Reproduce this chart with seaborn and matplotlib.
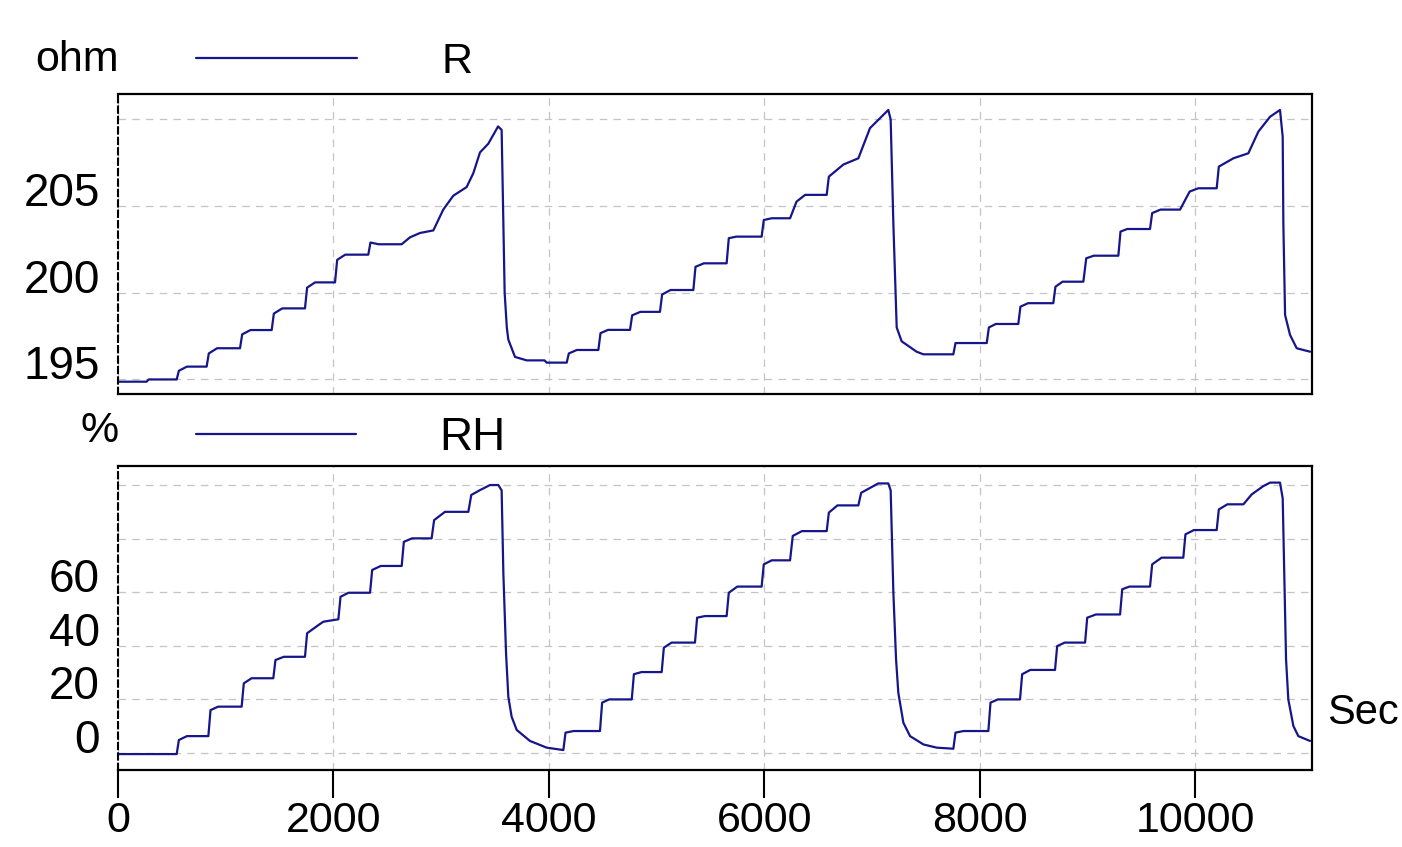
import matplotlib
matplotlib.use("Agg")
import matplotlib.pyplot as plt
import seaborn as sns
import pandas as pd

# ---------------- data ----------------
t_R = [0, 266, 285, 545, 565, 640, 823, 843, 920, 1133, 1153, 1230, 1427, 1447, 1525,
       1736, 1756, 1830, 2015, 2035, 2110, 2324, 2344, 2420, 2634, 2711, 2804, 2928,
       3020, 3113, 3237, 3299, 3361, 3438, 3529,
       3562, 3575, 3590, 3610, 3624, 3686, 3795, 3960, 3980, 4166,
       4186, 4260, 4460, 4480, 4550, 4754, 4774, 4850, 5032, 5052, 5130, 5342, 5362,
       5440, 5651, 5671, 5740, 5976, 5996, 6070, 6240, 6300, 6380, 6580, 6600, 6735,
       6874, 6982, 7152,
       7174, 7199, 7230, 7276, 7415, 7478, 7756,
       7776, 8066, 8086, 8150, 8359, 8379, 8450, 8684, 8704, 8770, 8963, 8990, 9060,
       9288, 9308, 9370, 9582, 9602, 9680, 9861, 9950, 10030, 10201, 10221, 10356,
       10495, 10588, 10697, 10789,
       10814, 10820, 10836, 10882, 10944, 11068]
R = [194.87, 194.87, 195.0, 195.0, 195.5, 195.74, 195.74, 196.5, 196.8, 196.8, 197.6,
     197.85, 197.85, 198.8, 199.1, 199.1, 200.3, 200.6, 200.6, 201.9, 202.2, 202.2,
     202.9, 202.8, 202.8, 203.2, 203.45, 203.6, 204.8, 205.6, 206.1, 206.9, 208.1,
     208.6, 209.6,
     209.4, 205.0, 200.0, 198.0, 197.3, 196.3, 196.1, 196.1, 195.97, 195.97,
     196.5, 196.7, 196.7, 197.67, 197.86, 197.86, 198.7, 198.9, 198.9, 199.9, 200.16,
     200.16, 201.5, 201.7, 201.7, 203.15, 203.24, 203.24, 204.2, 204.3, 204.3, 205.26,
     205.65, 205.65, 206.7, 207.4, 207.76, 209.5, 210.55,
     210.0, 204.0, 198.0, 197.2, 196.6, 196.45, 196.45,
     197.1, 197.1, 198.0, 198.2, 198.2, 199.2, 199.4, 199.4, 200.35, 200.64, 200.64,
     201.99, 202.14, 202.14, 203.53, 203.68, 203.68, 204.6, 204.8, 204.8, 205.84,
     206.03, 206.03, 207.28, 207.76, 208.05, 209.3, 210.16, 210.55,
     209.0, 204.0, 198.72, 197.57, 196.8, 196.6]

t_RH = [0, 545, 565, 640, 839, 859, 930, 1148, 1168, 1240, 1442, 1462, 1540, 1736, 1756,
        1870, 1907, 2046, 2066, 2140, 2340, 2360, 2440, 2634, 2654, 2730, 2912, 2935,
        3036, 3253, 3280, 3361, 3454, 3531,
        3562, 3578, 3603, 3624, 3655, 3702, 3825, 3980, 4135,
        4155, 4230, 4475, 4495, 4560, 4770, 4790, 4860, 5048, 5068, 5140, 5357, 5377,
        5450, 5651, 5671, 5750, 5976, 5996, 6070, 6240, 6265, 6350, 6580, 6600, 6680,
        6874, 6900, 7059, 7152,
        7174, 7199, 7224, 7245, 7292, 7354, 7478, 7601, 7756,
        7776, 7850, 8081, 8101, 8170, 8375, 8395, 8470, 8700, 8720, 8790, 8979, 8999,
        9080, 9304, 9324, 9390, 9582, 9602, 9690, 9891, 9911, 9990, 10201, 10221,
        10300, 10449, 10526, 10634, 10697, 10789,
        10814, 10845, 10866, 10913, 10959, 11068]
RH = [-0.4, -0.4, 4.85, 6.3, 6.3, 16.0, 17.3, 17.3, 26.0, 27.9, 27.9, 34.7, 35.9, 35.9,
      44.7, 48.0, 49.0, 49.9, 58.3, 59.8, 59.8, 68.3, 69.8, 69.8, 78.8, 80.1, 80.1, 86.9,
      90.0, 90.0, 96.3, 98.1, 100.0, 100.0,
      98.0, 67.0, 37.2, 21.0, 13.5, 8.6, 4.5, 2.0, 1.1,
      7.6, 8.2, 8.2, 18.8, 20.0, 20.0, 29.4, 30.2, 30.2, 39.3, 41.2, 41.2, 50.5, 51.1,
      51.1, 59.8, 62.1, 62.1, 70.4, 71.9, 71.9, 81.0, 82.8, 82.8, 89.7, 92.4, 92.4,
      97.1, 100.6, 100.6,
      98.0, 60.0, 35.0, 22.5, 11.3, 6.3, 3.2, 2.0, 1.6,
      7.6, 8.2, 8.2, 18.8, 20.0, 20.0, 29.4, 31.0, 31.0, 39.9, 41.2, 41.2, 50.5, 51.7,
      51.7, 61.1, 62.1, 62.1, 70.4, 72.9, 72.9, 81.6, 83.2, 83.2, 90.9, 92.8, 92.8,
      96.5, 99.6, 100.9, 100.9,
      95.0, 35.0, 20.0, 10.1, 6.3, 4.5]

x_ticks = [0, 2000, 4000, 6000, 8000, 10000]
x_ticklabels = ["0", "2000", "4000", "6000", "8000", "10000"]
r_ticks = [195, 200, 205, 210]
r_ticklabels = ["195", "200", "205", ""]
rh_ticks = [0, 20, 40, 60, 80, 100]
rh_ticklabels = ["0", "20", "40", "60", "", ""]

# ---------------- style ----------------
sns.set_theme(style="white")
plt.rcParams["font.family"] = ["Liberation Sans", "DejaVu Sans"]
plt.rcParams["text.color"] = "black"
plt.rcParams["xtick.color"] = "black"
plt.rcParams["ytick.color"] = "black"
plt.rcParams["axes.labelcolor"] = "black"

W, H = 1402, 847
fig = plt.figure(figsize=(W / 100, H / 100), dpi=100)
fig.patch.set_facecolor("white")

ax1 = fig.add_axes([118 / W, 1 - 394 / H, (1312 - 118) / W, 300 / H])
ax2 = fig.add_axes([118 / W, 1 - 770 / H, (1312 - 118) / W, 304 / H])

line_color = "#16168a"
df_r = pd.DataFrame({"t": t_R, "R": R})
df_rh = pd.DataFrame({"t": t_RH, "RH": RH})
sns.lineplot(data=df_r, x="t", y="R", ax=ax1, color=line_color, lw=1.6,
             estimator=None, sort=False, label="R")
sns.lineplot(data=df_rh, x="t", y="RH", ax=ax2, color=line_color, lw=1.6,
             estimator=None, sort=False, label="RH")

grid_kw = dict(color="#c4c4c4", linestyle=(0, (6, 5)), linewidth=0.9)

def style_axes(ax, yticks, ylabels, ylim):
    ax.set_xlim(0, 11086)
    ax.set_ylim(*ylim)
    ax.set_xticks(x_ticks)
    ax.set_yticks(yticks)
    ax.set_yticklabels(ylabels, fontsize=33, color="black")
    for lab in ax.get_yticklabels():
        lab.set_verticalalignment("baseline")
    ax.tick_params(axis="y", length=0, pad=13)
    ax.grid(True, **grid_kw)
    ax.set_axisbelow(True)
    ax.set_xlabel("")
    ax.set_ylabel("")
    for side in ["top", "right", "bottom"]:
        ax.spines[side].set_visible(True)
        ax.spines[side].set_color("black")
        ax.spines[side].set_linewidth(1.6)
    ax.spines["left"].set_color("black")
    ax.spines["left"].set_linewidth(1.5)
    ax.spines["left"].set_linestyle((0, (3, 2)))

style_axes(ax1, r_ticks, r_ticklabels, (194.16, 211.47))
style_axes(ax2, rh_ticks, rh_ticklabels, (-6.34, 107.1))

ax1.tick_params(axis="x", length=0, labelbottom=False)
ax2.set_xticklabels(x_ticklabels, color="black")
ax2.tick_params(axis="x", direction="out", length=20, width=1.5, pad=2,
                labelsize=31, bottom=True, colors="black")

# legends placed above each panel
ax1.legend(loc="center left", bbox_to_anchor=(196 / W, 1 - 62 / H),
           bbox_transform=fig.transFigure, frameon=False, fontsize=31,
           handlelength=3.75, handletextpad=1.95, borderpad=0, borderaxespad=0,
           labelcolor="black")
ax2.legend(loc="center left", bbox_to_anchor=(196 / W, 1 - 438 / H),
           bbox_transform=fig.transFigure, frameon=False, fontsize=33,
           handlelength=3.5, handletextpad=1.8, borderpad=0, borderaxespad=0,
           labelcolor="black")
for leg in (ax1.get_legend(), ax2.get_legend()):
    for h in leg.legend_handles:
        h.set_linewidth(1.6)

# unit labels
fig.text(119 / W, 1 - 60 / H, "ohm", ha="right", va="center", fontsize=31)
fig.text(119 / W, 1 - 431 / H, "%", ha="right", va="center", fontsize=31)
fig.text(1399 / W, 1 - 713 / H, "Sec", ha="right", va="center", fontsize=30)

fig.savefig("out.png", dpi=100)
